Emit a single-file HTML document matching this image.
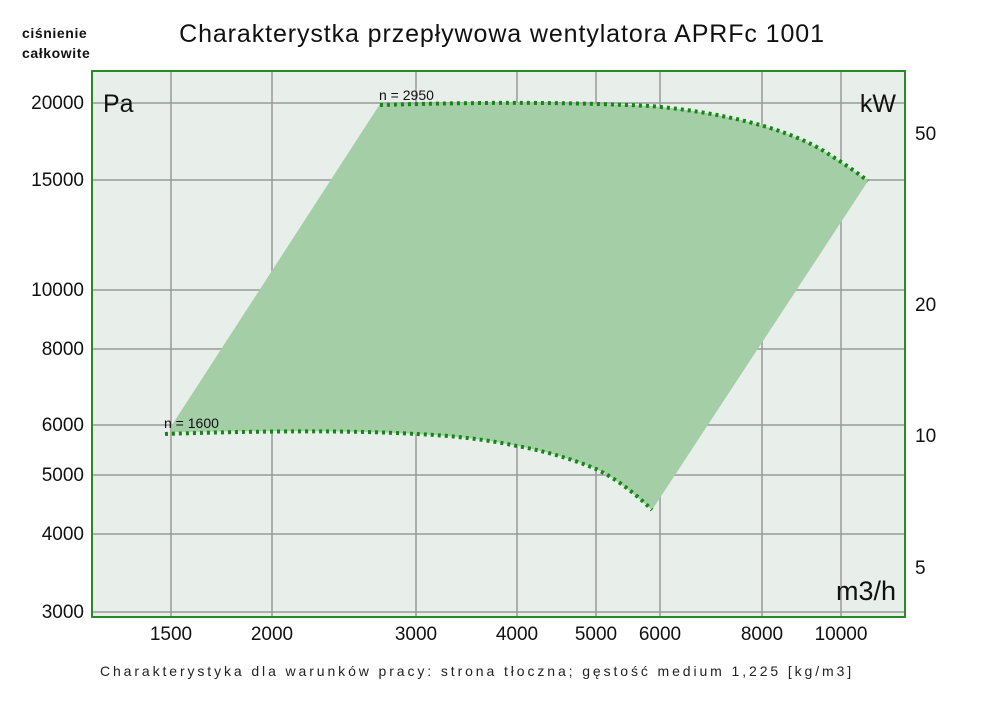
<!DOCTYPE html>
<html><head><meta charset="utf-8"><style>
html,body{margin:0;padding:0;background:#fff;}
svg{display:block;font-family:"Liberation Sans","DejaVu Sans",sans-serif;}
</style></head><body>
<svg width="1000" height="706" viewBox="0 0 1000 706">
<rect width="1000" height="706" fill="#fff"/>
<text x="22" y="38" font-size="14" font-weight="bold" fill="#111" letter-spacing="0.6">ciśnienie</text>
<text x="22" y="58" font-size="14" font-weight="bold" fill="#111" letter-spacing="0.6">całkowite</text>
<text x="502" y="42" font-size="25" text-anchor="middle" fill="#111" letter-spacing="0.9">Charakterystka przepływowa wentylatora APRFc 1001</text>
<rect x="92" y="71" width="813" height="546" fill="#e8eeea"/>
<g stroke="#999" stroke-width="1.5">
<line x1="92" y1="103" x2="905" y2="103"/><line x1="92" y1="180" x2="905" y2="180"/>
<line x1="92" y1="290" x2="905" y2="290"/><line x1="92" y1="349" x2="905" y2="349"/>
<line x1="92" y1="425" x2="905" y2="425"/><line x1="92" y1="475" x2="905" y2="475"/>
<line x1="92" y1="534" x2="905" y2="534"/><line x1="92" y1="612" x2="905" y2="612"/>
<line x1="171" y1="71" x2="171" y2="617"/><line x1="272" y1="71" x2="272" y2="617"/>
<line x1="416" y1="71" x2="416" y2="617"/><line x1="517" y1="71" x2="517" y2="617"/>
<line x1="596" y1="71" x2="596" y2="617"/><line x1="660" y1="71" x2="660" y2="617"/>
<line x1="762" y1="71" x2="762" y2="617"/><line x1="841" y1="71" x2="841" y2="617"/>
</g>
<path d="M172,425 L380,104 C450,103 550,101 650,106 C720,112 790,128 830,155 C848,166 860,175 868,181 L652,510 C630,490 610,475 596,469 C570,458 540,450 517,446 C480,438 440,435 416,434 C350,430 250,431 172,432 Z" fill="#a3cea6"/>
<g fill="none" stroke="#118811" stroke-width="4" stroke-dasharray="3,4">
<path d="M380,105 C450,103 550,101 650,106 C720,112 790,128 830,155 C848,166 860,175 868,181"/>
<path d="M165,434 C250,431 350,430 416,434 C440,435 480,438 517,446 C540,450 570,458 596,469 C615,478 635,493 652,510"/>
</g>
<rect x="92" y="71" width="813" height="546" fill="none" stroke="#2a8a2a" stroke-width="2"/>
<text x="103" y="112" font-size="25" fill="#111">Pa</text>
<text x="896" y="112" font-size="25" fill="#111" text-anchor="end">kW</text>
<text x="896" y="600" font-size="27" fill="#111" text-anchor="end">m3/h</text>
<text x="379" y="100" font-size="14" fill="#111">n = 2950</text>
<text x="164" y="428" font-size="14" fill="#111">n = 1600</text>
<g font-size="19" fill="#111" text-anchor="end">
<text x="84" y="109">20000</text><text x="84" y="186">15000</text><text x="84" y="296">10000</text>
<text x="84" y="355">8000</text><text x="84" y="431">6000</text><text x="84" y="481">5000</text>
<text x="84" y="540">4000</text><text x="84" y="618">3000</text>
</g>
<g font-size="19" fill="#111">
<text x="915" y="140">50</text><text x="915" y="311">20</text><text x="915" y="442">10</text><text x="915" y="574">5</text>
</g>
<g font-size="19" fill="#111" text-anchor="middle">
<text x="171" y="640">1500</text><text x="272" y="640">2000</text><text x="416" y="640">3000</text>
<text x="517" y="640">4000</text><text x="596" y="640">5000</text><text x="660" y="640">6000</text>
<text x="762" y="640">8000</text><text x="841" y="640">10000</text>
</g>
<text x="477" y="676" font-size="14" fill="#222" text-anchor="middle" letter-spacing="2.9">Charakterystyka dla warunków pracy: strona tłoczna; gęstość medium 1,225 [kg/m3]</text>
</svg>
</body></html>
